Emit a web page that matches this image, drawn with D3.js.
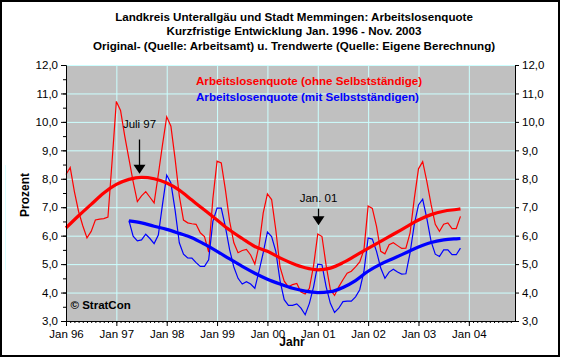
<!DOCTYPE html>
<html><head><meta charset="utf-8">
<script src="https://cdn.jsdelivr.net/npm/d3@7"></script>
<style>
body{margin:0;background:#fff}
svg{display:block}
text{font-family:"Liberation Sans",Arial,sans-serif;fill:#000}
</style>
</head><body><svg id="c" width="561" height="358"></svg>
<script>
// ---------- data ----------
const titleLines = [
  "Landkreis Unterallgäu und Stadt Memmingen: Arbeitslosenquote",
  "Kurzfristige Entwicklung Jan. 1996 - Nov. 2003",
  "Original- (Quelle: Arbeitsamt) u. Trendwerte (Quelle: Eigene Berechnung)"
];
const yearLabels = ["Jan 96","Jan 97","Jan 98","Jan 99","Jan 00","Jan 01","Jan 02","Jan 03","Jan 04"];
const yTickValues = [3,4,5,6,7,8,9,10,11,12];
const legendLabels = ["Arbeitslosenquote (ohne Selbstständige)","Arbeitslosenquote (mit Selbstständigen)"];
const yLabel = "Prozent";
const xLabel = "Jahr";
const credit = "© StratCon";

// monthly values, Jan 1996 .. Nov 2003 (month index 0..94)
const ohneSelbst = [
  8.15,8.40,7.55,6.85,6.35,5.92,6.15,6.55,6.58,6.60,6.65,8.65,
  10.72,10.40,9.50,8.70,7.90,7.20,7.40,7.55,7.35,7.15,8.15,9.20,
  10.18,9.85,8.70,7.40,6.55,6.45,6.42,6.40,6.10,5.97,5.42,7.30,
  8.62,8.56,7.60,6.50,5.75,5.40,5.48,5.52,5.32,5.00,5.65,6.80,
  7.47,7.27,6.20,4.90,4.40,4.20,4.28,4.32,4.02,3.95,4.15,4.95,
  6.06,5.97,4.95,4.10,3.90,4.20,4.45,4.68,4.75,4.90,5.08,5.50,
  7.04,6.96,6.33,5.45,5.36,5.68,5.75,5.65,5.55,5.56,6.10,7.30,
  8.35,8.60,7.90,7.10,6.40,6.15,6.40,6.45,6.25,6.25,6.68
];
// monthly values, Apr 1997 .. Nov 2003 (month index 15..94)
const mitSelbstStart = 15;
const mitSelbst = [
  6.53,5.98,5.82,5.85,6.05,5.90,5.72,6.02,7.10,
  8.13,7.85,6.90,5.75,5.35,5.22,5.21,5.05,4.92,4.92,5.15,6.50,
  6.97,6.97,6.30,5.50,4.90,4.50,4.30,4.38,4.30,4.15,4.75,5.40,
  6.13,5.97,5.45,4.42,3.75,3.55,3.55,3.60,3.45,3.22,3.62,4.20,
  5.00,4.98,4.20,3.62,3.30,3.45,3.68,3.70,3.70,3.85,4.10,4.74,
  5.92,5.88,5.45,4.86,4.50,4.72,4.82,4.72,4.65,4.66,5.40,6.40,
  7.08,7.28,6.60,5.80,5.35,5.27,5.50,5.50,5.33,5.33,5.56
];
// trend values (read every quarter)
const trendOhneMonths = [0,3,6,9,12,15,18,21,24,27,30,33,36,39,42,45,48,51,54,57,60,63,66,69,72,75,78,81,84,87,90,93,94];
const trendOhne = [6.27,6.70,7.10,7.50,7.80,7.98,8.05,8.00,7.85,7.60,7.25,6.90,6.55,6.20,5.90,5.62,5.45,5.22,5.02,4.87,4.80,4.86,5.05,5.30,5.55,5.80,6.05,6.30,6.55,6.74,6.86,6.92,6.94];
const trendMitMonths = [15,18,21,24,27,30,33,36,39,42,45,48,51,54,57,60,63,66,69,72,75,78,81,84,87,90,93,94];
const trendMit = [6.52,6.45,6.33,6.22,6.08,5.93,5.70,5.45,5.18,4.92,4.68,4.47,4.30,4.15,4.05,4.00,4.03,4.18,4.42,4.75,5.00,5.20,5.40,5.60,5.76,5.85,5.89,5.90];

const annotations = [
  {text:"Juli 97", month:17.5, textVal:9.77, lineTop:9.38, tip:8.18},
  {text:"Jan. 01", month:60.0, textVal:7.20, lineTop:6.95, tip:6.37}
];

// ---------- chart ----------
const svg = d3.select("#c");
const W = 561, H = 358;
const plot = {left:66, right:515, top:65, bottom:321};
const x = d3.scaleLinear().domain([0,107]).range([plot.left, plot.right]);
const y = d3.scaleLinear().domain([3,12]).range([plot.bottom, plot.top]);
const fmt = d => d3.format(".1f")(d).replace(".", ",");

svg.append("rect").attr("x",0).attr("y",0).attr("width",W).attr("height",H).attr("fill","#fff");
svg.append("rect").attr("x",1).attr("y",1).attr("width",558).attr("height",355)
  .attr("fill","none").attr("stroke","#000").attr("stroke-width",2);
svg.append("line").attr("x1",5.5).attr("x2",5.5).attr("y1",165).attr("y2",270).attr("stroke","#d8ffff");

// title
svg.append("g").selectAll("text").data(titleLines).join("text")
  .attr("x",294).attr("y",(d,i)=>20.5+i*14.8).attr("text-anchor","middle")
  .style("font-size","11.6px").style("font-weight","bold").text(d=>d);

// plot background
svg.append("rect").attr("x",plot.left).attr("y",plot.top)
  .attr("width",plot.right-plot.left).attr("height",plot.bottom-plot.top).attr("fill","#c0c0c0");

// grid
const grid = svg.append("g").attr("stroke","#ccffff").attr("stroke-width",1);
grid.selectAll("line.h").data(yTickValues.filter(v=>v>3)).join("line")
  .attr("x1",plot.left).attr("x2",plot.right)
  .attr("y1",d=>y(d)+0.5).attr("y2",d=>y(d)+0.5);
grid.selectAll("line.v").data(yearLabels.slice(1).map((d,i)=>(i+1)*12)).join("line")
  .attr("x1",d=>x(d)+0.5).attr("x2",d=>x(d)+0.5)
  .attr("y1",plot.top).attr("y2",plot.bottom);

// legend
svg.append("g").selectAll("text").data(legendLabels).join("text")
  .attr("x",196).attr("y",(d,i)=>85+i*15.5)
  .style("fill",(d,i)=>i===0?"#ff0000":"#0000ff")
  .style("font-size","11.6px").style("font-weight","bold").text(d=>d);

// credit
svg.append("text").attr("x",70.5).attr("y",309).style("font-size","11.5px").style("font-weight","bold").text(credit);

// series
const line = d3.line().x(d=>x(d[0])).y(d=>y(d[1]));
const ohneData = ohneSelbst.map((v,i)=>[i,v]);
const mitData = mitSelbst.map((v,i)=>[i+mitSelbstStart,v]);
svg.append("path").datum(ohneData).attr("d",line).attr("fill","none").attr("stroke","#ff0000").attr("stroke-width",1.2);
svg.append("path").datum(mitData).attr("d",line).attr("fill","none").attr("stroke","#0000ff").attr("stroke-width",1.2);

const curve = d3.line().curve(d3.curveMonotoneX).x(d=>x(d[0])).y(d=>y(d[1]));
svg.append("path").datum(trendOhneMonths.map((m,i)=>[m,trendOhne[i]])).attr("d",curve)
  .attr("fill","none").attr("stroke","#ff0000").attr("stroke-width",3.2);
svg.append("path").datum(trendMitMonths.map((m,i)=>[m,trendMit[i]])).attr("d",curve)
  .attr("fill","none").attr("stroke","#0000ff").attr("stroke-width",3.2);

// axes
const axL = svg.append("g").attr("transform",`translate(${plot.left},0)`);
axL.call(d3.axisLeft(y).tickValues(d3.range(3,12.01,0.5)).tickFormat("").tickSize(3).tickSizeOuter(0));
const axL2 = svg.append("g").attr("transform",`translate(${plot.left},0)`);
axL2.call(d3.axisLeft(y).tickValues(yTickValues).tickFormat(fmt).tickSize(5).tickPadding(3).tickSizeOuter(0));
const axR = svg.append("g").attr("transform",`translate(${plot.right},0)`);
axR.call(d3.axisRight(y).tickValues(yTickValues).tickFormat(fmt).tickSize(4).tickPadding(3).tickSizeOuter(0));
const axB = svg.append("g").attr("transform",`translate(0,${plot.bottom})`);
axB.call(d3.axisBottom(x).tickValues(d3.range(0,107,1)).tickFormat("").tickSize(2).tickSizeOuter(0));
const axB2 = svg.append("g").attr("transform",`translate(0,${plot.bottom})`);
axB2.call(d3.axisBottom(x).tickValues(yearLabels.map((d,i)=>i*12)).tickFormat((d,i)=>yearLabels[i]).tickSize(5).tickPadding(4).tickSizeOuter(0));
svg.selectAll(".tick text").style("font-size","11.5px").style("font-family","'Liberation Sans',Arial,sans-serif");
svg.selectAll(".domain, .tick line").attr("stroke","#000");

// axis titles
svg.append("text").attr("transform","translate(28.5,195) rotate(-90)").attr("text-anchor","middle")
  .style("font-size","12px").style("font-weight","bold").text(yLabel);
svg.append("text").attr("x",292).attr("y",346).attr("text-anchor","middle")
  .style("font-size","12px").style("font-weight","bold").text(xLabel);

// annotations
const ann = svg.append("g");
annotations.forEach(a=>{
  const ax = Math.round(x(a.month))+0.5;
  ann.append("text").attr("x",ax).attr("y",y(a.textVal)).attr("text-anchor","middle").style("font-size","11.5px").text(a.text);
  ann.append("line").attr("x1",ax).attr("x2",ax).attr("y1",y(a.lineTop)).attr("y2",y(a.tip)-8).attr("stroke","#000").attr("stroke-width",1.3);
  const t = y(a.tip);
  ann.append("path").attr("d",`M${ax-6},${t-9}L${ax+6},${t-9}L${ax},${t}Z`).attr("fill","#000");
});
</script>
</body></html>
